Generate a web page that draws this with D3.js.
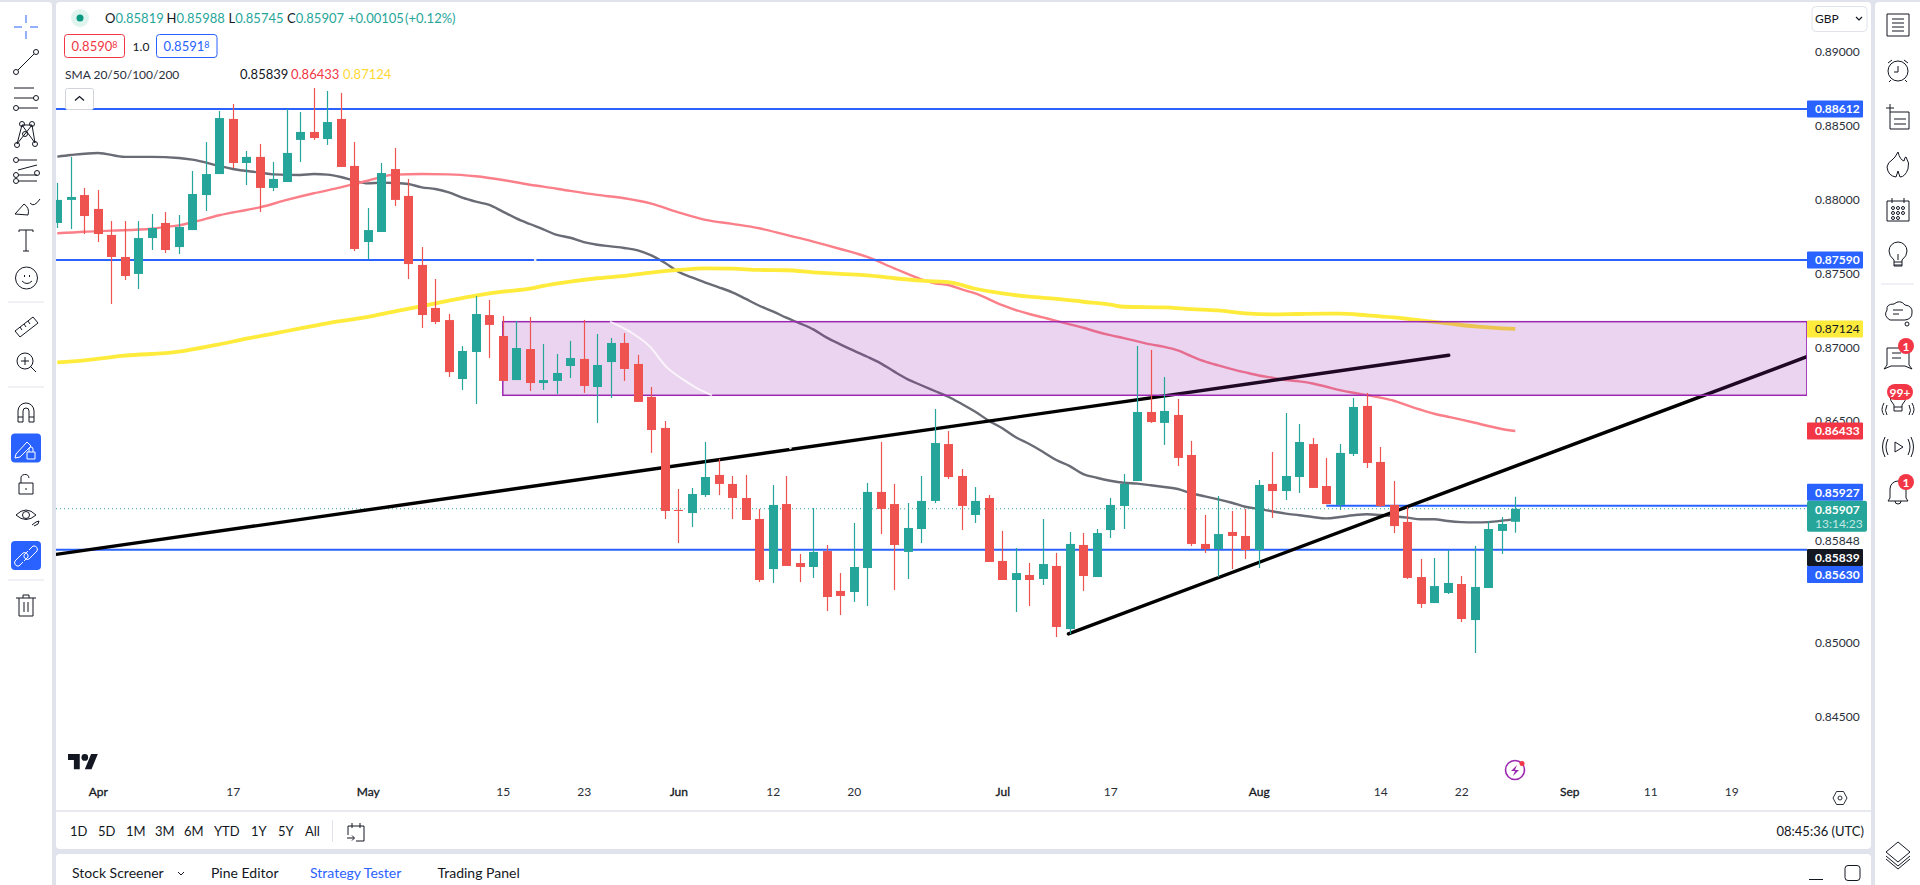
<!DOCTYPE html>
<html>
<head>
    <title>EUR/GBP daily chart</title>
    <script src="https://d3js.org/d3.v7.min.js"></script>
    <style type="text/css">
        body { margin: 0; background: #e0e3eb; overflow: hidden; }
        svg { display: block; font-family: Lato, "Noto Sans", sans-serif; }
        text { fill: #131722; }
        .axis path, .axis line { display: none; }
        .axis text { font-size: 12px; font-family: Lato, sans-serif; fill: #2a2e39; }
    </style>
</head>
<body>
    <svg id="chart" width="1920" height="885"></svg>

    <script>
        // all prices are in 1/100000 GBP (87841 = 0.87841)
        var opens = [87841,87997,88030,87936,87760,87611,87496,87739,87841,87678,87793,88030,88172,88545,88247,88288,88078,88118,88403,88457,88409,88545,88227,87712,87780,88206,88024,87557,87266,87184,86785,86968,87218,87076,86778,86988,86758,86772,86873,86921,86731,86900,87029,86887,86664,86454,85899,85878,86000,86136,86075,85980,85838,85499,85939,85540,85513,85621,85351,85344,85506,86021,85939,85615,85770,85960,86345,86129,85865,85980,85554,85425,85459,85432,85520,85093,85662,85445,85763,85926,86095,86562,86488,86542,86271,85669,85635,85750,85723,85628,86075,86027,86122,86345,86061,85933,86278,86603,86224,85933,85818,85445,85269,85337,85398,85154,85371,85757,85819];
        var highs = [88112,88288,88078,88064,87854,87854,87854,87902,87915,87895,88193,88389,88599,88646,88328,88376,88254,88612,88592,88754,88734,88721,88389,87942,88247,88348,88139,87678,87462,87225,87008,87347,87320,87211,87178,87205,87022,86955,87043,87185,87090,87063,87097,86948,86731,86501,86041,86048,86359,86244,86129,86136,85906,86068,86129,85601,85912,85662,85472,85811,86082,86359,86075,85946,86129,86582,86433,86176,86054,86000,85757,85642,85540,85838,85608,85750,85743,85770,85980,86142,87009,86982,86799,86650,86366,85865,85994,85892,85906,86102,86291,86555,86481,86386,86251,86345,86657,86691,86325,86095,85919,85567,85574,85628,85452,85655,85824,85851,85988];
        var lows = [87807,87800,87766,87712,87293,87455,87394,87658,87638,87631,87793,87922,88172,88213,88098,87915,88057,88118,88254,88403,88369,88220,87651,87597,87780,87956,87462,87130,87157,86799,86711,86616,86927,86772,86778,86704,86711,86684,86792,86691,86488,86657,86772,86630,86285,85838,85675,85784,85987,86000,85838,85831,85411,85405,85520,85411,85439,85215,85188,85276,85249,85736,85357,85432,85675,85946,86109,85763,85811,85547,85425,85208,85249,85391,85039,85060,85351,85445,85709,85770,86095,86488,86339,86197,85655,85608,85445,85499,85567,85506,85845,85966,86014,86048,85939,85899,86264,86183,85920,85743,85432,85236,85269,85330,85141,84931,85371,85601,85745];
        var closes = [87997,88017,87888,87766,87611,87482,87739,87807,87658,87814,88037,88172,88551,88247,88288,88078,88139,88315,88457,88416,88524,88220,87665,87793,88179,87997,87563,87218,87171,86832,86975,87225,87151,86772,86995,86758,86778,86826,86927,86738,86880,87029,86853,86630,86440,85892,85892,86007,86122,86075,85980,85831,85425,85933,85520,85513,85615,85310,85317,85513,86021,85906,85662,85777,85960,86352,86122,85926,85960,85547,85425,85472,85425,85533,85107,85669,85452,85743,85933,86075,86562,86494,86569,86251,85669,85635,85736,85723,85628,86068,86027,86129,86359,86048,85939,86285,86596,86217,85926,85790,85439,85263,85384,85405,85161,85378,85770,85804,85907];

        // moving averages, bar number + value
        var smaDarkBars = [0,1,3,5,7,9,10,12,13,15,16,18,19,20,21,22,23,24,25,26,27,28,29,30,31,32,33,34,35,36,37,38,39,40,41,42,43,44,45,46,47,48,49,50,51,52,53,54,55,56,57,58,59,60,61,62,63,64,65,66,67,68,69,70,71,72,73,74,75,76,77,78,79,80,81,82,83,84,85,86,87,88,89,90,91,92,93,94,95,96,97,98,99,100,101,102,103,104,105,106,107,108];
        var smaDarkVals = [88290,88301,88315,88288,88288,88281,88270,88227,88206,88182,88170,88166,88172,88168,88152,88127,88109,88114,88112,88105,88082,88071,88048,88012,87985,87963,87918,87872,87834,87798,87760,87741,87712,87694,87683,87672,87656,87622,87572,87511,87473,87437,87406,87372,87327,87281,87243,87200,87162,87121,87065,87020,86977,86936,86891,86835,86783,86743,86704,86665,86616,86564,86503,86452,86391,86345,86293,86237,86196,86142,86117,86097,86083,86077,86066,86054,86041,86012,85991,85971,85948,85921,85905,85890,85874,85863,85851,85842,85851,85863,85870,85865,85856,85847,85836,85836,85824,85817,85815,85817,85826,85839];
        var smaRedBars = [0,2,4,7,8,9,10,12,14,15,17,19,21,23,25,27,29,31,33,35,36,38,40,42,44,46,48,50,52,54,56,58,60,62,64,65,66,67,68,70,71,72,73,74,75,76,77,78,79,80,81,82,83,84,85,86,87,88,89,90,91,92,93,94,95,96,97,98,99,100,101,102,103,104,105,106,107,108];
        var smaRedVals = [87771,87782,87789,87802,87814,87825,87845,87893,87929,87947,87997,88042,88082,88127,88168,88172,88170,88157,88132,88100,88087,88058,88031,88008,87972,87913,87862,87835,87805,87760,87715,87665,87611,87534,87460,87433,87421,87391,87364,87285,87252,87225,87202,87179,87155,87132,87105,87082,87062,87040,87019,87003,86979,86940,86904,86877,86852,86830,86809,86794,86778,86769,86755,86733,86710,86692,86677,86659,86638,86607,86577,86550,86530,86510,86489,86467,86447,86433];
        var smaYellowBars = [0,2,5,9,10,12,14,16,18,20,23,25,27,29,31,33,35,36,38,40,42,44,46,48,50,52,54,56,58,60,62,64,65,66,68,70,72,74,76,78,79,82,84,86,88,90,92,94,95,97,99,101,103,105,107,108];
        var smaYellowVals = [86898,86911,86943,86970,86986,87020,87058,87092,87128,87162,87205,87243,87279,87315,87349,87376,87396,87415,87444,87467,87483,87505,87523,87534,87532,87523,87521,87507,87496,87487,87467,87451,87445,87441,87396,87364,87342,87328,87308,87288,87274,87270,87258,87249,87229,87222,87225,87227,87227,87216,87202,87182,87162,87141,87128,87124];
        var whiteBars = [40.94,42.4,43.9,45.1,46.4,47.4,48.5];
        var whiteVals = [87174,87106,87004,86869,86779,86722,86675];
        // little pale specks left on the lines in the picture
        var speckBars = [35.4,54.3,101.5], speckPrices = [87590,86318,85946];

        // drawings on the chart
        var levelPrices = [88612,87590,85630];
        var shortLevel = { bar: 94, price: 85927 };
        var lastPrice = 85907;
        var zoneBars = [33,129.6], zonePrices = [87173,86675];
        var trendBars1 = [-0.1,103.07], trendPrices1 = [85598,86946];
        var trendBars2 = [74.9,129.6], trendPrices2 = [85060,86936];

        var priceTicks = [89000,88500,88000,87500,87000,86500,85000,84500];
        var timeTickBars = [3,13,23,33,39,46,53,59,70,78,89,98,104,112,118,124];
        var timeTickLabels = ["Apr","17","May","15","23","Jun","12","20","Jul","17","Aug","14","22","Sep","11","19"];

        var green = "#26a69a", red = "#ef5350", blue = "#2962ff";
        var plotLeft = 56, plotRight = 1807;

        var svg = d3.select("#chart");

        var x = d3.scaleLinear().domain([0,108]).range([57.3,1515.3]);
        var y = d3.scaleLinear().domain([84500,89000]).range([716.7,51.7]);

        // panels
        function panel(px, py, w, h) {
            svg.append("rect").attr("x",px).attr("y",py).attr("width",w).attr("height",h).attr("rx",4).attr("fill","#fff");
        }
        panel(-6,2,58,890);
        panel(56,2,1815,847);
        panel(56,854,1815,40);
        panel(1875,2,50,890);

        svg.append("defs").append("clipPath").attr("id","plot").append("rect")
            .attr("x",plotLeft).attr("y",2).attr("width",plotRight-plotLeft).attr("height",808);

        var plot = svg.append("g").attr("clip-path","url(#plot)");

        function drawSma(bars, vals, color, w) {
            var line = d3.line().x(function(d){ return x(d); })
                .y(function(d,i){ return y(vals[i]); })
                .curve(d3.curveMonotoneX);
            plot.append("path").attr("d",line(bars)).attr("fill","none")
                .attr("stroke",color).attr("stroke-width",w);
        }
        drawSma(smaDarkBars,smaDarkVals,"#696b75",2.4);
        drawSma(smaRedBars,smaRedVals,"#fb7f89",2.4);
        drawSma(smaYellowBars,smaYellowVals,"#ffeb3b",3.8);

        // horizontal levels
        plot.selectAll(".level").data(levelPrices).enter().append("line")
            .attr("class","level")
            .attr("x1",plotLeft).attr("x2",plotRight)
            .attr("y1",function(d){ return y(d); }).attr("y2",function(d){ return y(d); })
            .attr("stroke",blue).attr("stroke-width",2);
        plot.append("line").attr("x1",x(shortLevel.bar)).attr("x2",plotRight)
            .attr("y1",y(shortLevel.price)).attr("y2",y(shortLevel.price))
            .attr("stroke",blue).attr("stroke-width",2);

        plot.append("line").attr("x1",plotLeft).attr("x2",plotRight)
            .attr("y1",y(lastPrice)).attr("y2",y(lastPrice))
            .attr("stroke",green).attr("stroke-width",1).attr("stroke-dasharray","1 3");

        // trend lines
        function trend(bars, prices) {
            plot.append("line").attr("x1",x(bars[0])).attr("x2",x(bars[1]))
                .attr("y1",y(prices[0])).attr("y2",y(prices[1]))
                .attr("stroke","#000").attr("stroke-width",3.4).attr("stroke-linecap","round");
        }
        trend(trendBars1,trendPrices1);
        trend(trendBars2,trendPrices2);

        // supply zone sits over the lines, candles go over it
        plot.append("rect").attr("x",x(zoneBars[0])).attr("y",y(zonePrices[0]))
            .attr("width",x(zoneBars[1])-x(zoneBars[0])).attr("height",y(zonePrices[1])-y(zonePrices[0]))
            .attr("fill","#9c27b0").attr("fill-opacity",0.2)
            .attr("stroke","#9c27b0").attr("stroke-width",1.5);

        var whiteLine = d3.line().x(function(d){ return x(d); })
            .y(function(d,i){ return y(whiteVals[i]); }).curve(d3.curveMonotoneX);
        plot.append("path").attr("d",whiteLine(whiteBars)).attr("fill","none")
            .attr("stroke","#fff").attr("stroke-opacity",0.75).attr("stroke-width",2);

        plot.selectAll(".speck").data(speckBars).enter().append("circle")
            .attr("class","speck")
            .attr("cx",function(d){ return x(d); })
            .attr("cy",function(d,i){ return y(speckPrices[i]); })
            .attr("r",1.4).attr("fill","#e8e8ee");

        // candles
        var candles = plot.selectAll(".candle").data(d3.range(opens.length)).enter().append("g").attr("class","candle");
        function candleColor(i) { return closes[i] >= opens[i] ? green : red; }
        candles.append("line")
            .attr("x1",function(i){ return Math.round(x(i))+0.5; }).attr("x2",function(i){ return Math.round(x(i))+0.5; })
            .attr("y1",function(i){ return y(highs[i]); }).attr("y2",function(i){ return y(lows[i]); })
            .attr("stroke",candleColor).attr("stroke-width",1.2);
        candles.append("rect")
            .attr("x",function(i){ return Math.round(x(i))-4; }).attr("width",9)
            .attr("y",function(i){ return y(Math.max(opens[i],closes[i])); })
            .attr("height",function(i){ return Math.max(1,Math.abs(y(opens[i])-y(closes[i]))); })
            .attr("fill",candleColor);

        // axes
        svg.append("g").attr("class","axis").attr("transform","translate("+plotRight+",0)")
            .call(d3.axisRight(y).tickValues(priceTicks).tickSize(0).tickPadding(8)
                .tickFormat(function(d){ return (d/100000).toFixed(5); }));

        var timeAxis = svg.append("g").attr("class","axis").attr("transform","translate(0,787)")
            .call(d3.axisBottom(x).tickValues(timeTickBars).tickSize(0).tickPadding(0)
                .tickFormat(function(d,i){ return timeTickLabels[i]; }));
        timeAxis.selectAll("text").filter(function(d,i){ return isNaN(+timeTickLabels[i]); })
            .style("fill","#131722").style("stroke","#131722").style("stroke-width",0.3);

        svg.append("line").attr("x1",56).attr("x2",1871).attr("y1",811).attr("y2",811).attr("stroke","#e0e3eb").attr("stroke-width",1.5);

        // price tags on the axis, tagY are the places they get pushed to
        var tagLabels = ["0.88612","0.87590","0.87124","0.86433","0.85927","0.85839","0.85630"];
        var tagY = [y(88612),y(87590),y(87124),y(86433),492.3,557.5,574.4];
        var tagFill = [blue,blue,"#ffeb3b","#f23645",blue,"#131722",blue];
        var tagText = ["#fff","#fff","#131722","#fff","#fff","#fff","#fff"];
        tagLabels.forEach(function(label,i){
            svg.append("rect").attr("x",plotRight).attr("y",tagY[i]-8.5).attr("width",56).attr("height",17).attr("rx",1).attr("fill",tagFill[i]);
            svg.append("text").attr("x",plotRight+8).attr("y",tagY[i]+4.2).style("font-size","12px").style("font-weight",i==2 ? "400" : "700").style("fill",tagText[i]).text(label);
        });
        svg.append("rect").attr("x",plotRight).attr("y",500.7).attr("width",60).attr("height",31).attr("rx",2).attr("fill",green);
        svg.append("text").attr("x",plotRight+8).attr("y",513.5).style("font-size","12px").style("font-weight","700").style("fill","#fff").text("0.85907");
        svg.append("text").attr("x",plotRight+8).attr("y",527.5).style("font-size","12px").style("fill","#c3e8e3").text("13:14:23");
        svg.append("text").attr("x",plotRight+8).attr("y",545).style("font-size","12px").style("fill","#2a2e39").text("0.85848");

        // legend text on top of the chart
        function label(tx, ty, str, color, size, anchor) {
            return svg.append("text").attr("x",tx).attr("y",ty).attr("text-anchor",anchor||"start")
                .style("font-size",(size||13)+"px").style("fill",color||"#131722").text(str);
        }
        svg.append("circle").attr("cx",80).attr("cy",18).attr("r",9).attr("fill","#dff3ef");
        svg.append("circle").attr("cx",80).attr("cy",18).attr("r",3.5).attr("fill","#089981");

        var ohlcNames = ["O","H","L","C"], ohlcVals = ["0.85819","0.85988","0.85745","0.85907"], ohlcX = [105,166.5,228.5,287];
        ohlcNames.forEach(function(n,i){
            var t = label(ohlcX[i],23,n,"#131722");
            t.append("tspan").style("fill",green).text(ohlcVals[i]);
        });
        label(348,23,"+0.00105",green);
        label(405,23,"(+0.12%)",green);

        function priceBox(bx, w, color, main, sup) {
            svg.append("rect").attr("x",bx).attr("y",34.5).attr("width",w).attr("height",23).attr("rx",3).attr("fill","#fff").attr("stroke",color);
            var t = label(bx+7,51,main,color,13);
            t.append("tspan").attr("dy",-3).style("font-size","9px").style("fill",color).text(sup);
        }
        priceBox(64.5,60,"#f23645","0.8590","8");
        label(141,51,"1.0","#131722",12,"middle");
        priceBox(156.5,60.5,blue,"0.8591","8");

        label(65,79,"SMA 20/50/100/200","#2a2e39",12);
        label(240,79,"0.85839","#131722",13);
        label(291,79,"0.86433","#f23645",13);
        label(343,79,"0.87124","#fdd835",13);

        svg.append("rect").attr("x",65.5).attr("y",88.5).attr("width",28).attr("height",21).attr("rx",2).attr("fill","#fff").attr("stroke","#d1d4dc");
        svg.append("path").attr("d","M75 100.5l4.5-4 4.5 4").attr("fill","none").attr("stroke","#131722").attr("stroke-width",1.3);

        svg.append("rect").attr("x",1812).attr("y",6.5).attr("width",55).attr("height",25).attr("rx",4).attr("fill","#fff").attr("stroke","#e0e3eb");
        label(1815,23,"GBP","#131722",12);
        svg.append("path").attr("d","M1856 17l3 3 3-3").attr("fill","none").attr("stroke","#131722").attr("stroke-width",1.2);

        // TradingView logo, lightning and gear
        svg.append("g").attr("transform","translate(68,750.7) scale(0.84)").append("path")
            .attr("d","M14 22H7V11H0V4h14v18zM28 22h-8l7.5-18h8L28 22zM24 8a4 4 0 1 1-8 0 4 4 0 0 1 8 0z").attr("fill","#131722");
        svg.append("circle").attr("cx",1515).attr("cy",770).attr("r",9.5).attr("fill","#fff").attr("stroke","#9c27b0").attr("stroke-width",1.6);
        svg.append("path").attr("d","M1517 765l-6 6h4l-2 5 6-6h-4z").attr("fill","#9c27b0");
        svg.append("circle").attr("cx",1522).attr("cy",763.5).attr("r",2.5).attr("fill","#f23645");
        svg.append("path").attr("d","M1833 798l3.5-6.5h7l3.5 6.5-3.5 6.5h-7z").attr("fill","none").attr("stroke","#2a2e39").attr("stroke-width",1);
        svg.append("circle").attr("cx",1840).attr("cy",798).attr("r",2).attr("fill","none").attr("stroke","#2a2e39");

        // range row and bottom tabs
        var rangeLabels = ["1D","5D","1M","3M","6M","YTD","1Y","5Y","All"];
        var rangeX = [70,98,126,155,184,214,251,278,305];
        rangeLabels.forEach(function(r,i){ label(rangeX[i],836,r,"#131722",13); });
        svg.append("line").attr("x1",332.5).attr("x2",332.5).attr("y1",820).attr("y2",842).attr("stroke","#e0e3eb");
        svg.append("path").attr("d","M348 826h16v15h-8M348 835v-9M352 823v5M360 823v5M347 838h7m-2-2.5l2.5 2.5-2.5 2.5").attr("fill","none").attr("stroke","#131722");
        label(1864,836,"08:45:36 (UTC)","#131722",13,"end");

        var tabLabels = ["Stock Screener","Pine Editor","Strategy Tester","Trading Panel"];
        var tabX = [72,211,310,437.5];
        tabLabels.forEach(function(t,i){
            label(tabX[i],878,t,i==2 ? blue : "#131722",14);
        });
        svg.append("path").attr("d","M178 872l3 3 3-3").attr("fill","none").attr("stroke","#131722");
        svg.append("path").attr("d","M1809 879.5h14").attr("stroke","#131722");
        svg.append("rect").attr("x",1845).attr("y",865.5).attr("width",15).attr("height",15).attr("rx",3).attr("fill","none").attr("stroke","#131722");

        // toolbars
        function ci(cx, cy, r) {
            return "M"+(cx-r)+" "+cy+"a"+r+" "+r+" 0 1 0 "+(2*r)+" 0a"+r+" "+r+" 0 1 0 "+(-2*r)+" 0";
        }
        function icon(cx, cy, d, color) {
            svg.append("path").attr("transform","translate("+cx+","+cy+")").attr("d",d)
                .attr("fill","none").attr("stroke",color||"#131722").attr("stroke-width",1);
        }
        function sep(x1, x2, sy) {
            svg.append("line").attr("x1",x1).attr("x2",x2).attr("y1",sy).attr("y2",sy).attr("stroke","#e0e3eb").attr("stroke-width",1.2);
        }
        function activeBox(by) {
            svg.append("rect").attr("x",11).attr("y",by).attr("width",30).attr("height",29).attr("rx",4).attr("fill",blue);
        }

        icon(26,27,"M0-12v8M0 4v8M-12 0h8M4 0h8",blue);
        icon(26,62,"M-8 8L8-8"+ci(-10,10,2.5)+ci(10,-10,2.5));
        icon(26,98,"M-12-10H8M-12 0H8M-8 10H12"+ci(10,0,2.5)+ci(-10,10,2.5));
        icon(26,134,"M-9 10L-4-9L9 9L6-9L-9 10M-4-9L6-9"+ci(-4,-10,2.5)+ci(6,-10,2.5)+ci(-9,11,2.5)+ci(9,10,2.5)+ci(-1,0,2.5));
        icon(26,170,"M-8-10H11M-8 0L11-5M-8 5H11M-8 11H11"+ci(-10,-10,2.5)+ci(-10,5,2.5)+ci(-10,11,2.5)+ci(11,3,2.5));
        icon(26,206,"M-11 8L-2-2Q4 2 2 9L-11 8M4-3Q8 2 14-7");
        icon(26,241,"M-7-9V-11H7V-9M0-11V10M-3 10H3");
        icon(26,278,"M-1.5-3v2M3.5-3v2M-4 3Q1 8 6 3"+ci(0.5,0,11));
        sep(8,44,302);
        icon(26,326,"M-11 5L7-9L12-3L-6 11ZM-6 1l2 3M-2-2l2 3M2-5l2 3");
        icon(26,361,"M4 5l6 6M-5 0H3M-1-4V4"+ci(-1,0,8));
        sep(8,44,387);
        icon(26,412,"M-8 10V-1A8 8 0 0 1 8-1V10H3V-1A3 3 0 0 0-3-1V10ZM-8 5H-3M3 5H8");
        activeBox(433.5);
        icon(24,448,"M-8 6L3-6L7-2L-4 9L-9 10ZM3 4h8v7H3ZM5 4V1A2 2 0 0 1 9 1V4","#fff");
        icon(26,485,"M-7-2H7V9H-7ZM-5-2V-6A4 4 0 0 1 3-7M0 3v2");
        icon(26,516,"M-10-1Q0-11 10-1Q0 8-10-1"+ci(0,-1,3.5)+"M6 9L10 6l3-1-1 3-4 2");
        activeBox(541);
        icon(26,556,"M-3 6L-7 10A3.5 3.5 0 0 1-11 5L-3-3A3.5 3.5 0 0 1 2 1L-2 5M3-6L7-10A3.5 3.5 0 0 1 11-5L3 3A3.5 3.5 0 0 1-2-1L2-5","#fff");
        sep(8,44,580);
        icon(26,606,"M-10-8H10M-7-8V10H7V-8M-2-4V6M2-4V6M-3-8V-11H3V-8");

        icon(1898,25,"M-11-11H11V11H-11ZM-6-6H6M-6-2H6M-6 2H6M-6 6H6");
        icon(1898,71,"M0-5V1H-4M-10-8L-6-11M10-8L6-11M-7 9L-9 11M7 9L9 11"+ci(0,0,10));
        icon(1898,118,"M-8-6H11V11H-8ZM-4 1H8M-4 6H8M-12-10H-4M-8-14V-6");
        icon(1898,165,"M0-13Q2-5 6-4Q7-9 8-8Q12-2 10 4Q7 12 2 12L0 6-2 12Q-10 11-11 2Q-10-3-6-5Q-3-7 0-13Z");
        icon(1898,210,"M-11-9H11V11H-11ZM-6-12V-7M6-12V-7"+ci(-5,-2,1.5)+ci(0,-2,1.5)+ci(5,-2,1.5)+ci(-5,3,1.5)+ci(0,3,1.5)+ci(5,3,1.5)+ci(-5,8,1.5)+ci(0,8,1.5));
        icon(1898,255,"M-4 5Q-9 1-9-4A9 9 0 0 1 9-4Q9 1 4 5V11H-4ZM-4 7H4M-4 10H4M0-1V5");
        sep(1881,1914,284);
        icon(1898,312,"M-8 8Q-15 4-11-2Q-12-8-4-8Q2-13 7-7Q15-6 14 1Q14 7 7 8ZM-5-2H5M-5 2H1"+ci(9,12,2));
        icon(1898,357,"M-11-9H11V8L14 12L7 9H-7L-14 12L-11 8ZM-6-4H3M-6 1H3");
        icon(1898,403,"M-4 2Q-8-2-8-7A8 8 0 0 1 8-7Q8-2 4 2V8H-4ZM-4 4H4M-11 2Q-14 8-11 12M-14 0Q-18 7-14 12M11 2Q14 8 11 12M14 0Q18 7 14 12");
        icon(1898,447,"M-3-5L5 0L-3 5ZM-10-8Q-14 0-10 8M-13-10Q-18 0-13 10M10-8Q14 0 10 8M13-10Q18 0 13 10");
        icon(1898,492,"M-8 6V-3A8 8 0 0 1 8-3V6L10 9H-10ZM-3 9A3 3 0 0 0 3 9");
        icon(1898,853,"M0-11L12-1L0 9L-12-1ZM-12 3L0 13L12 3M-12 6L0 16L12 6");

        function badge(bx, by, str, w) {
            svg.append("rect").attr("x",bx-w/2).attr("y",by-8).attr("width",w).attr("height",16).attr("rx",8).attr("fill","#f23645");
            label(bx,by+4.5,str,"#fff",12,"middle").style("font-weight","700");
        }
        badge(1906,346,"1",16);
        badge(1900,392,"99+",26);
        badge(1906,482,"1",16);
    </script>
</body>
</html>
